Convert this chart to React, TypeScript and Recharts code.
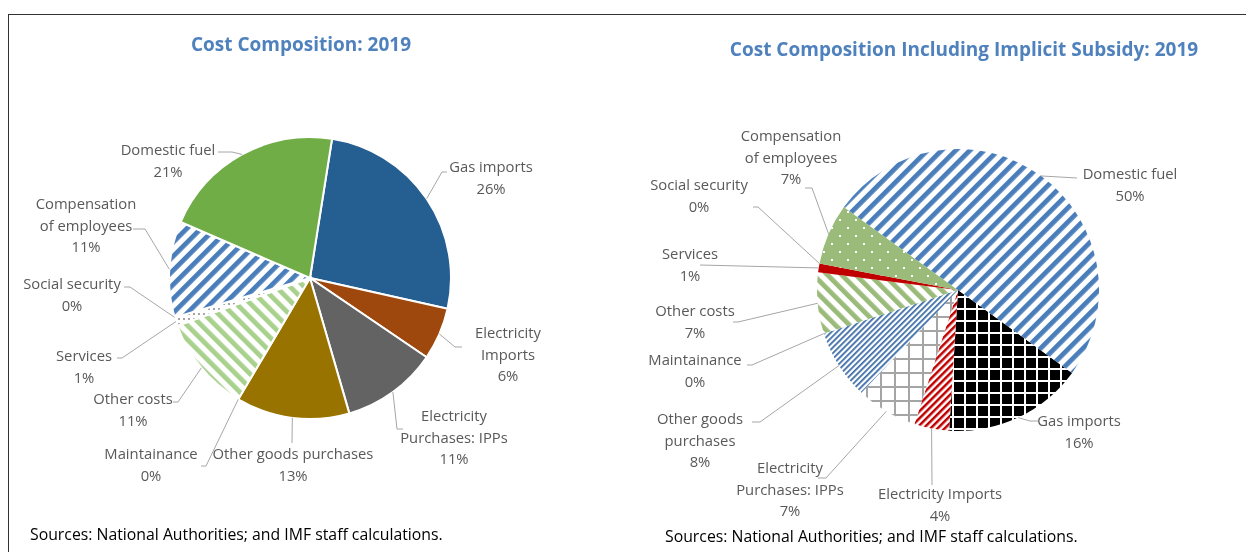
import React from "react";
import { PieChart, Pie, Cell } from "recharts";

// slice order (clockwise) is the same in both pies
const categories = [
  "Gas imports",
  "Electricity Imports",
  "Electricity Purchases: IPPs",
  "Other goods purchases",
  "Maintainance",
  "Other costs",
  "Services",
  "Social security",
  "Compensation of employees",
  "Domestic fuel",
];
const costShares2019 = [26, 6, 11, 13, 0, 11, 1, 0, 11, 21];
const costSharesWithSubsidy2019 = [16, 4, 7, 8, 0, 7, 1, 0, 7, 50];

const leftLabelLines = [
  ["Gas imports"],
  ["Electricity", "Imports"],
  ["Electricity", "Purchases: IPPs"],
  ["Other goods purchases"],
  ["Maintainance"],
  ["Other costs"],
  ["Services"],
  ["Social security"],
  ["Compensation", "of employees"],
  ["Domestic fuel"],
];
const rightLabelLines = [
  ["Gas imports"],
  ["Electricity Imports"],
  ["Electricity", "Purchases: IPPs"],
  ["Other goods", "purchases"],
  ["Maintainance"],
  ["Other costs"],
  ["Services"],
  ["Social security"],
  ["Compensation", "of employees"],
  ["Domestic fuel"],
];

// label placement relative to pie centre: [textX, textY, elbowX, elbowY, endX, endY]
const leftLabelPos = [
  [181, -112, 132, -106, 137, -106],
  [198, 54, 145, 69, 152, 69],
  [144, 137, 87, 151, 93, 151],
  [-17, 175, -18, 165, -18, 165],
  [-159, 175, -104, 188, -109, 188],
  [-177, 120, -132, 124, -137, 124],
  [-226, 77, -188, 80, -193, 80],
  [-238, 5, -180, 9, -186, 9],
  [-224, -75, -165, -49, -177, -49],
  [-142, -129, -78, -126, -92, -126],
];
const rightLabelPos = [
  [121, 130, 72, 131, 80, 131],
  [-18, 203, -26, 195, -26, 195],
  [-168, 177, -132, 188, -140, 188],
  [-258, 128, -198, 132, -206, 132],
  [-263, 69, -206, 75, -211, 75],
  [-263, 20, -220, 32, -225, 32],
  [-268, -37, -258, -25, -258, -25],
  [-259, -106, -200, -83, -205, -83],
  [-167, -155, -146, -102, -153, -102],
  [172, -117, 119, -112, 119, -112],
];

const leftFills = [
  "#255E91",
  "#9E480E",
  "#636363",
  "#997300",
  "#A5A5A5",
  "url(#lGreenStripe)",
  "url(#lGrayDots)",
  "#A5A5A5",
  "url(#lBlueStripe)",
  "#70AD47",
];
const rightFills = [
  "url(#rBlackGrid)",
  "url(#rRedStripe)",
  "url(#rGrayGrid)",
  "url(#rBlueFine)",
  "#A5A5A5",
  "url(#rGreenStripe)",
  "#C00000",
  "#A5A5A5",
  "url(#rGreenDots)",
  "url(#rBlueStripe)",
];

const RAD = Math.PI / 180;
const labelFont = "'Open Sans', 'Noto Sans', sans-serif";

function makeLabel(lines: string[][], layout: number[][]) {
  return (p: any) => {
    const idx = p.index ?? categories.indexOf(p.name);
    const { cx, cy, midAngle, outerRadius, value } = p;
    const [tx, ty, ex, ey, hx, hy] = layout[idx];
    const sx = cx + outerRadius * Math.cos(-midAngle * RAD);
    const sy = cy + outerRadius * Math.sin(-midAngle * RAD);
    const rows = [...lines[idx], `${value}%`];
    return (
      <g key={`lbl-${idx}`}>
        <polyline
          points={`${sx},${sy} ${cx + ex},${cy + ey} ${cx + hx},${cy + hy}`}
          fill="none"
          stroke="#A6A6A6"
          strokeWidth={1}
        />
        <text
          x={cx + tx}
          y={cy + ty}
          textAnchor="middle"
          dominantBaseline="central"
          fill="#595959"
          fontSize={14.8}
          fontFamily={labelFont}
        >
          {rows.map((r, i) => (
            <tspan key={i} x={cx + tx} dy={i === 0 ? 0 : 21.5}>
              {r}
            </tspan>
          ))}
        </text>
      </g>
    );
  };
}

const leftData = categories.map((name, i) => ({ name, value: costShares2019[i] }));
const rightData = categories.map((name, i) => ({ name, value: costSharesWithSubsidy2019[i] }));

const titleStyle: React.CSSProperties = {
  position: "absolute",
  transform: "translate(-50%, -50%)",
  whiteSpace: "nowrap",
  color: "#4F81BD",
  fontWeight: 700,
  fontSize: 19,
  fontFamily: labelFont,
};
const sourceStyle: React.CSSProperties = {
  position: "absolute",
  transform: "translateY(-50%)",
  whiteSpace: "nowrap",
  color: "#000",
  fontSize: 15.8,
  lineHeight: "18px",
  fontFamily: labelFont,
};

export default function App() {
  return (
    <div style={{ position: "relative", width: 1230, height: 536, background: "#fff" }}>
      {/* outer frame; fixed so its overflow does not add scrollbars */}
      <div
        style={{
          position: "fixed",
          left: 8,
          top: 14,
          width: 1300,
          height: 700,
          borderTop: "1.5px solid #333",
          borderLeft: "1.5px solid #333",
          pointerEvents: "none",
        }}
      />
      <div style={{ ...titleStyle, left: 293, top: 36 }}>Cost Composition: 2019</div>
      <div style={{ ...titleStyle, left: 956, top: 41 }}>Cost Composition Including Implicit Subsidy: 2019</div>

      <div style={{ position: "absolute", left: 0, top: 0 }}>
        <PieChart width={620} height={536}>
          <defs>
            <pattern id="lBlueStripe" patternUnits="userSpaceOnUse" width={10} height={10} patternTransform="rotate(45)">
              <rect width={10} height={10} fill="#fff" />
              <rect width={4.8} height={10} fill="#4A7EBB" />
            </pattern>
            <pattern id="lGreenStripe" patternUnits="userSpaceOnUse" width={10} height={10} patternTransform="rotate(-45)">
              <rect width={10} height={10} fill="#fff" />
              <rect width={4.8} height={10} fill="#A9D18E" />
            </pattern>
            <pattern id="lGrayDots" patternUnits="userSpaceOnUse" width={5} height={5}>
              <rect width={5} height={5} fill="#fff" />
              <rect width={2} height={2} fill="#A5A5A5" />
            </pattern>
          </defs>
          <Pie
            data={leftData}
            dataKey="value"
            nameKey="name"
            cx={297}
            cy={265}
            outerRadius={141}
            startAngle={81}
            endAngle={-279}
            stroke="#fff"
            strokeWidth={2}
            isAnimationActive={false}
            labelLine={false}
            label={makeLabel(leftLabelLines, leftLabelPos)}
          >
            {leftData.map((d, i) => (
              <Cell key={d.name} fill={leftFills[i]} />
            ))}
          </Pie>
        </PieChart>
      </div>

      <div style={{ position: "absolute", left: 620, top: 0 }}>
        <PieChart width={610} height={536}>
          <defs>
            <pattern id="rBlueStripe" patternUnits="userSpaceOnUse" width={10} height={10} patternTransform="rotate(45)">
              <rect width={10} height={10} fill="#fff" />
              <rect width={4.8} height={10} fill="#4A7EBB" />
            </pattern>
            <pattern id="rGreenStripe" patternUnits="userSpaceOnUse" width={10} height={10} patternTransform="rotate(-45)">
              <rect width={10} height={10} fill="#fff" />
              <rect width={4.8} height={10} fill="#9BBB7A" />
            </pattern>
            <pattern id="rBlueFine" patternUnits="userSpaceOnUse" width={4} height={4} patternTransform="rotate(45)">
              <rect width={4} height={4} fill="#fff" />
              <rect width={1.8} height={4} fill="#3F6FA8" />
            </pattern>
            <pattern id="rRedStripe" patternUnits="userSpaceOnUse" width={5} height={5} patternTransform="rotate(45)">
              <rect width={5} height={5} fill="#fff" />
              <rect width={2.5} height={5} fill="#C00000" />
            </pattern>
            <pattern id="rBlackGrid" patternUnits="userSpaceOnUse" width={12} height={12}>
              <rect width={12} height={12} fill="#000" />
              <rect width={12} height={2} fill="#fff" />
              <rect width={2} height={12} fill="#fff" />
            </pattern>
            <pattern id="rGrayGrid" patternUnits="userSpaceOnUse" width={14} height={14}>
              <rect width={14} height={14} fill="#fff" />
              <rect width={14} height={2} fill="#A5A5A5" />
              <rect width={2} height={14} fill="#A5A5A5" />
            </pattern>
            <pattern id="rGreenDots" patternUnits="userSpaceOnUse" width={16} height={16}>
              <rect width={16} height={16} fill="#9BBB7A" />
              <rect x={3} y={3} width={2} height={2} fill="#fff" />
              <rect x={11} y={11} width={2} height={2} fill="#fff" />
            </pattern>
          </defs>
          <Pie
            data={rightData}
            dataKey="value"
            nameKey="name"
            cx={325}
            cy={277}
            outerRadius={141}
            startAngle={-36}
            endAngle={-396}
            stroke="none"
            isAnimationActive={false}
            labelLine={false}
            label={makeLabel(rightLabelLines, rightLabelPos)}
          >
            {rightData.map((d, i) => (
              <Cell key={d.name} fill={rightFills[i]} />
            ))}
          </Pie>
        </PieChart>
      </div>

      <div style={{ ...sourceStyle, left: 22, top: 526 }}>Sources: National Authorities; and IMF staff calculations.</div>
      <div style={{ ...sourceStyle, left: 657, top: 528 }}>Sources: National Authorities; and IMF staff calculations.</div>
    </div>
  );
}
